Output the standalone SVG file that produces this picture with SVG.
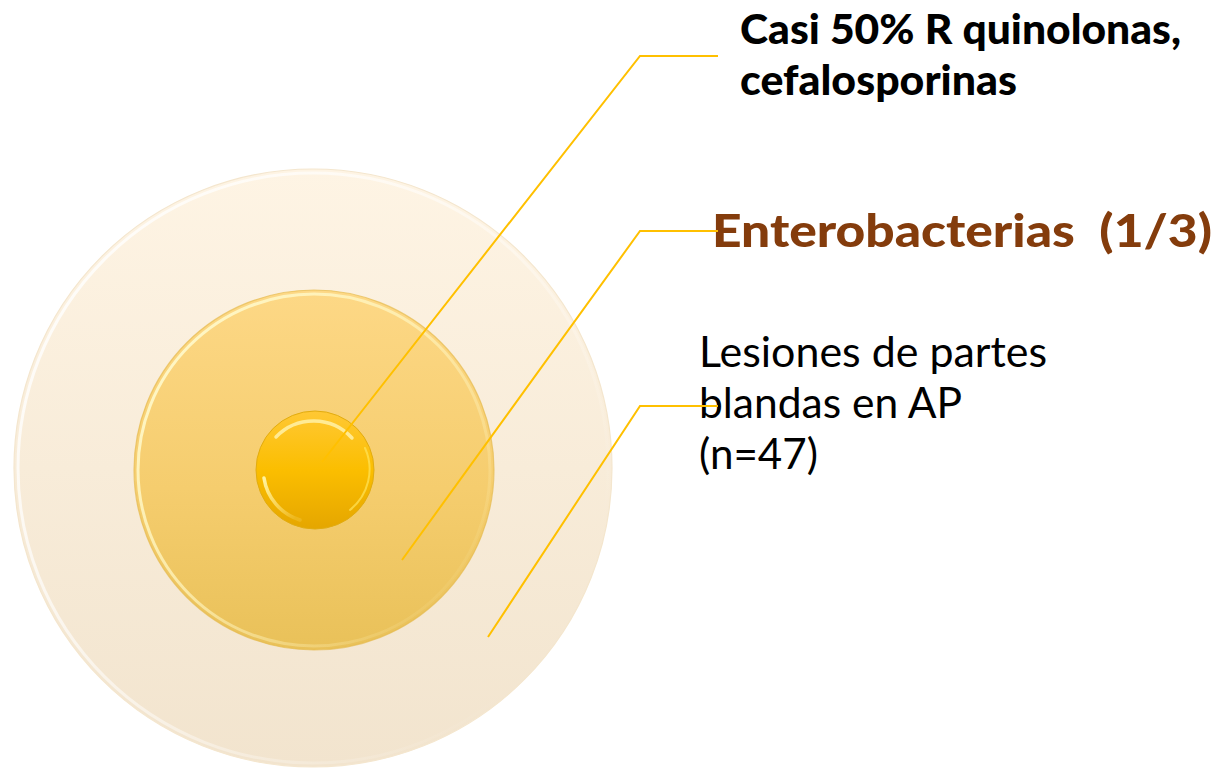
<svg xmlns="http://www.w3.org/2000/svg" width="1220" height="768" viewBox="0 0 1220 768">
  <style>
    .lbl-bold { font-family: Lato, "Open Sans", "Liberation Sans", sans-serif; font-weight: 900; }
    .lbl-reg { font-family: Lato, "Open Sans", "Liberation Sans", sans-serif; font-weight: 400; }
    .conn { fill: none; stroke: #FFC000; stroke-width: 2; stroke-linejoin: miter; }
  </style>
  <defs>
    <linearGradient id="gOuter" x1="0" y1="0" x2="0" y2="1">
      <stop offset="0" stop-color="#FEF4E4"/>
      <stop offset="1" stop-color="#F2E4CE"/>
    </linearGradient>
    <linearGradient id="gMid" x1="0" y1="0" x2="0" y2="1">
      <stop offset="0" stop-color="#FDD886"/>
      <stop offset="0.55" stop-color="#F5CD6E"/>
      <stop offset="1" stop-color="#E9C159"/>
    </linearGradient>
    <linearGradient id="gInner" x1="0" y1="0" x2="0" y2="1">
      <stop offset="0" stop-color="#FFC834"/>
      <stop offset="0.5" stop-color="#FBBE00"/>
      <stop offset="1" stop-color="#E5A600"/>
    </linearGradient>
    <linearGradient id="gRimL" x1="0" y1="0" x2="1" y2="0.6">
      <stop offset="0" stop-color="#FFFFFF" stop-opacity="0.9"/>
      <stop offset="0.55" stop-color="#FFFFFF" stop-opacity="0.5"/>
      <stop offset="1" stop-color="#FFFFFF" stop-opacity="0"/>
    </linearGradient>
    <linearGradient id="gRimMid" x1="0" y1="0" x2="1" y2="0.8">
      <stop offset="0" stop-color="#FFFBD0" stop-opacity="1"/>
      <stop offset="0.5" stop-color="#FFF6C0" stop-opacity="0.7"/>
      <stop offset="1" stop-color="#FFF6C0" stop-opacity="0"/>
    </linearGradient>
    <linearGradient id="gRimIn" x1="0" y1="0" x2="1" y2="0.8">
      <stop offset="0" stop-color="#FFF3A0" stop-opacity="1"/>
      <stop offset="0.6" stop-color="#FFE680" stop-opacity="0.6"/>
      <stop offset="1" stop-color="#FFE680" stop-opacity="0.2"/>
    </linearGradient>
  </defs>

  <g id="node-outer">
    <circle cx="313" cy="468" r="299" fill="url(#gOuter)" stroke="#F4E6CE" stroke-width="1.2"/>
    <circle cx="313" cy="468" r="295" fill="none" stroke="url(#gRimL)" stroke-width="3"/>
  </g>

  <g id="node-middle">
    <circle cx="314" cy="470" r="180" fill="url(#gMid)" stroke="#E6BA4E" stroke-width="1.2" stroke-opacity="0.7"/>
    <circle cx="314" cy="470" r="176" fill="none" stroke="url(#gRimMid)" stroke-width="3"/>
  </g>

  <g id="node-inner">
    <circle cx="315" cy="470" r="59" fill="url(#gInner)" stroke="#E2AC10" stroke-width="1"/>
    <path d="M276,437 A52,52 0 0 1 352,438" fill="none" stroke="#FFF1A8" stroke-width="3.5" stroke-linecap="round" opacity="0.85"/>
    <path d="M264,478 A52,52 0 0 0 300,520" fill="none" stroke="url(#gRimIn)" stroke-width="3.5" stroke-linecap="round"/>
    <path d="M365,448 A52,52 0 0 1 350,510" fill="none" stroke="#FFE45A" stroke-width="2" stroke-linecap="round" opacity="0.7"/>
  </g>

  <g id="label-top">
    <text class="lbl-bold" x="740" y="44" font-size="41" fill="#000000" textLength="441" lengthAdjust="spacingAndGlyphs">Casi 50% R quinolonas,</text>
    <text class="lbl-bold" x="740" y="95" font-size="41" fill="#000000" textLength="277" lengthAdjust="spacingAndGlyphs">cefalosporinas</text>
  </g>

  <g id="label-mid">
    <text class="lbl-bold" x="712" y="247" font-size="46" fill="#843C0C" xml:space="preserve" textLength="500" lengthAdjust="spacingAndGlyphs">Enterobacterias  (1/3)</text>
  </g>

  <g id="label-bottom">
    <text class="lbl-reg" x="699" y="367" font-size="42" fill="#000000" textLength="348" lengthAdjust="spacingAndGlyphs">Lesiones de partes</text>
    <text class="lbl-reg" x="699" y="418" font-size="42" fill="#000000" textLength="263" lengthAdjust="spacingAndGlyphs">blandas en AP</text>
    <text class="lbl-reg" x="699" y="469" font-size="42" fill="#000000" textLength="119" lengthAdjust="spacingAndGlyphs">(n=47)</text>
  </g>

  <g id="connectors">
    <polyline class="conn" points="718,56 640,56 322,462"/>
    <polyline class="conn" points="718,231 640,231 402,560"/>
    <polyline class="conn" points="718,406 640,406 488,637"/>
  </g>
</svg>
